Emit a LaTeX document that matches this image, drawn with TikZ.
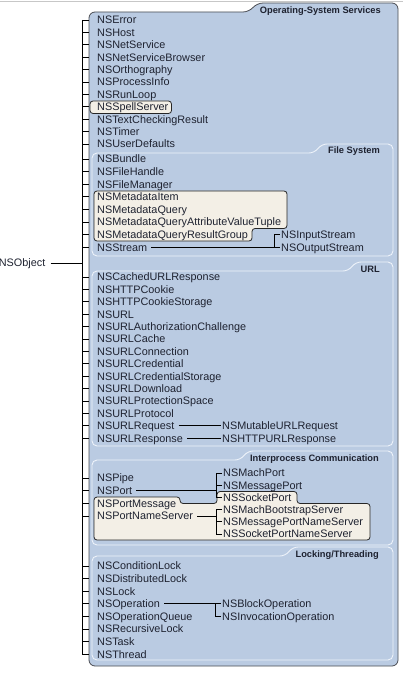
\documentclass[tikz,border=0pt]{standalone}
\usepackage{fontspec}
\setmainfont{Liberation Sans}
\definecolor{panelblue}{RGB}{186,203,226}
\definecolor{notebeige}{RGB}{243,239,230}
\definecolor{inkdark}{RGB}{30,34,48}
\definecolor{rimgrey}{RGB}{74,76,82}
\definecolor{rimwhite}{RGB}{238,243,250}
\begin{document}
\begin{tikzpicture}[x=1pt, y=-1pt,
    cls/.style={anchor=west, inner xsep=1pt, inner ysep=0pt, text height=9pt, text depth=1.2pt,
      font=\fontsize{10.85}{12}\selectfont, text=inkdark},
    tablabel/.style={anchor=east, inner sep=0pt, text height=6.7pt, text depth=0pt,
      font=\bfseries\fontsize{9.3}{11}\selectfont, text=inkdark},
    outerbox/.style={fill=panelblue, draw=rimgrey, line width=0.8pt},
    secbox/.style={fill=panelblue, draw=rimwhite, line width=0.9pt, rounded corners=5pt},
    notebox/.style={fill=notebeige, draw=black!85, line width=0.8pt, rounded corners=3pt},
    link/.style={draw=black, line width=0.75pt}]
  \useasboundingbox (0,0) rectangle (403,676);
  \draw[black!22] (0,1) -- (403,1);

  % panels
  \draw[outerbox, rounded corners=6pt] (89,12) -- (249,12) -- (257,3) -- (398,3) -- (398,666) -- (89,666) -- cycle;
  \foreach \ytab/\ybot/\xtab in {144/256/314, 262/446/348, 451/545/240, 547/660/285}
    \draw[secbox] (92,\ytab+9) -- (\xtab,\ytab+9) -- (\xtab+8,\ytab) -- (393,\ytab) -- (393,\ybot) -- (92,\ybot) -- cycle;
  \draw[notebox] (90,101) rectangle (171.5,113.5);
  \draw[notebox] (94,191) -- (287,191) -- (287,228.5) -- (252,228.5) -- (252,241) -- (94,241) -- cycle;
  \draw[notebox] (94,497) -- (180,497) -- (180,503.5) -- (217,503.5) -- (217,491.5) -- (297,491.5)
    -- (297,503.5) -- (370,503.5) -- (370,540) -- (94,540) -- cycle;

  \node[tablabel] (ossvc) at (381,10) {Operating-System Services};
  \node[tablabel] (filesys) at (380,150.5) {File System};
  \node[tablabel] (urlsec) at (380,269) {URL};
  \node[tablabel] (ipcsec) at (379,458) {Interprocess Communication};
  \node[tablabel] (locksec) at (379,554) {Locking/Threading};

  \coordinate (trunk) at (82,0);
  \coordinate (rim) at (89,0);
  \coordinate (col2) at (221,0);
  \coordinate (col3) at (280,0);
  \coordinate (portbar) at (216,0);

  % first column
  \foreach \n [count=\i from 0] in {NSError,NSHost,NSNetService,NSNetServiceBrowser,NSOrthography,
      NSProcessInfo,NSRunLoop,NSSpellServer,NSTextCheckingResult,NSTimer,NSUserDefaults} {
    \node[cls] (\n) at (96,{20+12.4*\i}) {\n};
    \draw[link] (\n.west -| trunk) -- (\n.west -| rim);
  }
  \foreach \n [count=\i from 0] in {NSBundle,NSFileHandle,NSFileManager,NSMetadataItem,NSMetadataQuery,
      NSMetadataQueryAttributeValueTuple,NSMetadataQueryResultGroup,NSStream} {
    \node[cls] (\n) at (96,{159+12.6*\i}) {\n};
    \draw[link] (\n.west -| trunk) -- (\n.west -| rim);
  }
  \foreach \n [count=\i from 0] in {NSCachedURLResponse,NSHTTPCookie,NSHTTPCookieStorage,NSURL,
      NSURLAuthorizationChallenge,NSURLCache,NSURLConnection,NSURLCredential,NSURLCredentialStorage,
      NSURLDownload,NSURLProtectionSpace,NSURLProtocol,NSURLRequest,NSURLResponse} {
    \node[cls] (\n) at (96,{277+12.4*\i}) {\n};
    \draw[link] (\n.west -| trunk) -- (\n.west -| rim);
  }
  \foreach \n [count=\i from 0] in {NSPipe,NSPort,NSPortMessage,NSPortNameServer} {
    \node[cls] (\n) at (96,{478+12.65*\i}) {\n};
    \draw[link] (\n.west -| trunk) -- (\n.west -| rim);
  }
  \foreach \n [count=\i from 0] in {NSConditionLock,NSDistributedLock,NSLock,NSOperation,
      NSOperationQueue,NSRecursiveLock,NSTask,NSThread} {
    \node[cls] (\n) at (96,{566+12.6*\i}) {\n};
    \draw[link] (\n.west -| trunk) -- (\n.west -| rim);
  }
  \draw[link] (NSError.west -| trunk) -- (NSThread.west -| trunk);
  \node[cls, anchor=east] (NSObject) at (46.5,263) {NSObject};
  \draw[link, shorten <=4pt] (NSObject.east) -- (NSObject.east -| trunk);

  % subclasses
  \node[cls] (NSInputStream) at (col3 |- NSMetadataQueryResultGroup.west) {NSInputStream};
  \node[cls] (NSOutputStream) at (col3 |- NSStream.west) {NSOutputStream};
  \draw[link, shorten <=3pt] (NSStream.east) -- (NSOutputStream.west);
  \draw[link] (NSInputStream.west) -- ++(-6,0) |- (NSOutputStream.west);

  \node[cls] (NSMutableURLRequest) at (col2 |- NSURLRequest.west) {NSMutableURLRequest};
  \node[cls] (NSHTTPURLResponse) at (col2 |- NSURLResponse.west) {NSHTTPURLResponse};
  \draw[link, shorten <=3pt] (NSURLRequest.east) -- (NSMutableURLRequest.west);
  \draw[link, shorten <=3pt] (NSURLResponse.east) -- (NSHTTPURLResponse.west);

  \foreach \n [count=\i from 0] in {NSMachPort,NSMessagePort,NSSocketPort,NSMachBootstrapServer,
      NSMessagePortNameServer,NSSocketPortNameServer}
    \node[cls] (\n) at (222,{473+12.2*\i}) {\n};
  \draw[link, shorten <=3pt] (NSPort.east) -- (NSPort.east -| portbar);
  \draw[link] (NSMachPort.west) -- (NSMachPort.west -| portbar) |- (NSSocketPort.west);
  \draw[link] (NSMessagePort.west) -- (NSMessagePort.west -| portbar);
  \draw[link, shorten <=3pt] (NSPortNameServer.east) -- (NSPortNameServer.east -| portbar);
  \draw[link] (NSMachBootstrapServer.west) -- (NSMachBootstrapServer.west -| portbar) |- (NSSocketPortNameServer.west);
  \draw[link] (NSMessagePortNameServer.west) -- (NSMessagePortNameServer.west -| portbar);

  \node[cls] (NSBlockOperation) at (col2 |- NSOperation.west) {NSBlockOperation};
  \node[cls] (NSInvocationOperation) at (col2 |- NSOperationQueue.west) {NSInvocationOperation};
  \draw[link, shorten <=3pt] (NSOperation.east) -- (NSBlockOperation.west);
  \draw[link] (NSBlockOperation.west) -- ++(-6,0) |- (NSInvocationOperation.west);
\end{tikzpicture}
\end{document}
